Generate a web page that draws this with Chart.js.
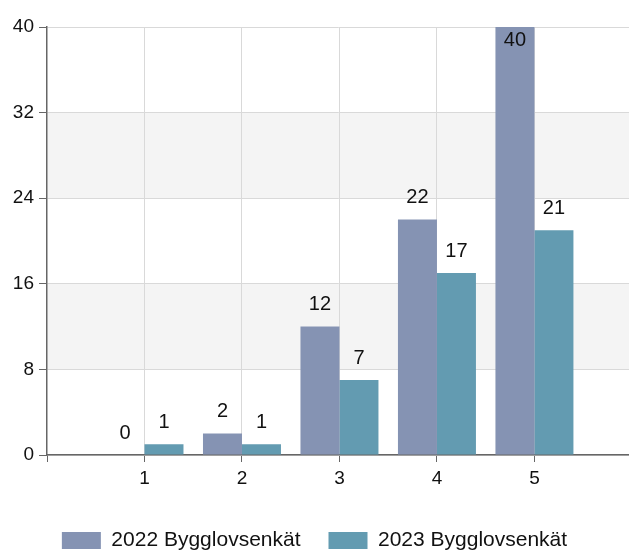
<!DOCTYPE html>
<html>
<head>
<meta charset="utf-8">
<script src="https://cdn.jsdelivr.net/npm/chart.js@4/dist/chart.umd.min.js"></script>
<style>
html,body{margin:0;padding:0;background:#fff;}
#wrap{width:629px;height:550px;position:relative;}
</style>
</head>
<body>
<div id="wrap"><canvas id="c"></canvas></div>
<script>
const categories = [1, 2, 3, 4, 5];
const seriesNames = ['2022 Bygglovsenkät', '2023 Bygglovsenkät'];
const values2022 = [0, 2, 12, 22, 40];
const values2023 = [1, 1, 7, 17, 21];
const yTicks = [0, 8, 16, 24, 32, 40];

const FONT = '"Liberation Sans", Arial, sans-serif';
const LEGEND_TOP = 502;
const AXIS_BOTTOM = 455;

const bandPlugin = {
  id: 'bands',
  beforeDraw(chart) {
    const {ctx, chartArea, scales: {y}} = chart;
    ctx.save();
    ctx.fillStyle = '#f4f4f4';
    for (let i = 0; i < yTicks.length - 1; i++) {
      if (i % 2 === 1) {
        const top = y.getPixelForValue(yTicks[i + 1]);
        const bot = y.getPixelForValue(yTicks[i]);
        ctx.fillRect(chartArea.left, top, chartArea.right - chartArea.left, bot - top);
      }
    }
    ctx.restore();
  }
};

const legendShift = {
  id: 'legendShift',
  afterLayout(chart) {
    const lg = chart.legend;
    if (!lg) return;
    const h = lg.bottom - lg.top;
    lg.top = LEGEND_TOP;
    lg.bottom = LEGEND_TOP + h;
  }
};

const labelPlugin = {
  id: 'valueLabels',
  afterDatasetsDraw(chart) {
    const {ctx, chartArea} = chart;
    ctx.save();
    ctx.font = '20px ' + FONT;
    ctx.fillStyle = '#111';
    ctx.textAlign = 'center';
    ctx.textBaseline = 'middle';
    chart.data.datasets.forEach((ds, di) => {
      const meta = chart.getDatasetMeta(di);
      meta.data.forEach((bar, i) => {
        const v = ds.data[i].y;
        const y = Math.max(bar.y - 22, chartArea.top + 13);
        ctx.fillText(String(v), bar.x, y);
      });
    });
    ctx.restore();
  }
};

new Chart(document.getElementById('c'), {
  type: 'bar',
  data: {
    datasets: [
      {
        label: seriesNames[0],
        data: categories.map((c, i) => ({x: c, y: values2022[i]})),
        backgroundColor: '#8593b3',
        borderWidth: 0
      },
      {
        label: seriesNames[1],
        data: categories.map((c, i) => ({x: c, y: values2023[i]})),
        backgroundColor: '#639bb1',
        borderWidth: 0
      }
    ]
  },
  options: {
    responsive: true,
    maintainAspectRatio: false,
    animation: false,
    barPercentage: 1,
    categoryPercentage: 0.8,
    layout: {padding: {left: 0, right: 0, top: 27, bottom: 0}},
    plugins: {
      legend: {
        position: 'bottom',
        labels: {
          boxWidth: 39,
          boxHeight: 17,
          padding: 28,
          color: '#111',
          font: {family: FONT, size: 21}
        }
      },
      tooltip: {enabled: false}
    },
    scales: {
      x: {
        type: 'linear',
        offset: false,
        min: 0,
        max: 5.97,
        afterFit(scale) {
          const lh = scale.chart.legend ? scale.chart.legend.height : 0;
          scale.height = scale.chart.height - AXIS_BOTTOM - lh;
        },
        ticks: {
          stepSize: 1,
          includeBounds: false,
          color: '#111',
          padding: 5,
          font: {family: FONT, size: 19},
          callback: v => (categories.includes(v) ? String(v) : '')
        },
        grid: {
          offset: false,
          color: ctx => (ctx.tick && ctx.tick.value === 0 ? 'rgba(0,0,0,0)' : '#d9d9d9'),
          tickColor: '#666',
          tickLength: 7
        },
        border: {color: '#666', width: 1.5}
      },
      y: {
        min: 0,
        max: 40,
        afterFit(scale) { scale.width = 47; },
        ticks: {
          stepSize: 8,
          color: '#111',
          padding: 5,
          font: {family: FONT, size: 19}
        },
        grid: {
          color: '#d9d9d9',
          tickColor: '#666',
          tickLength: 8
        },
        border: {color: '#666', width: 1.5}
      }
    }
  },
  plugins: [bandPlugin, labelPlugin, legendShift]
});
</script>
</body>
</html>
